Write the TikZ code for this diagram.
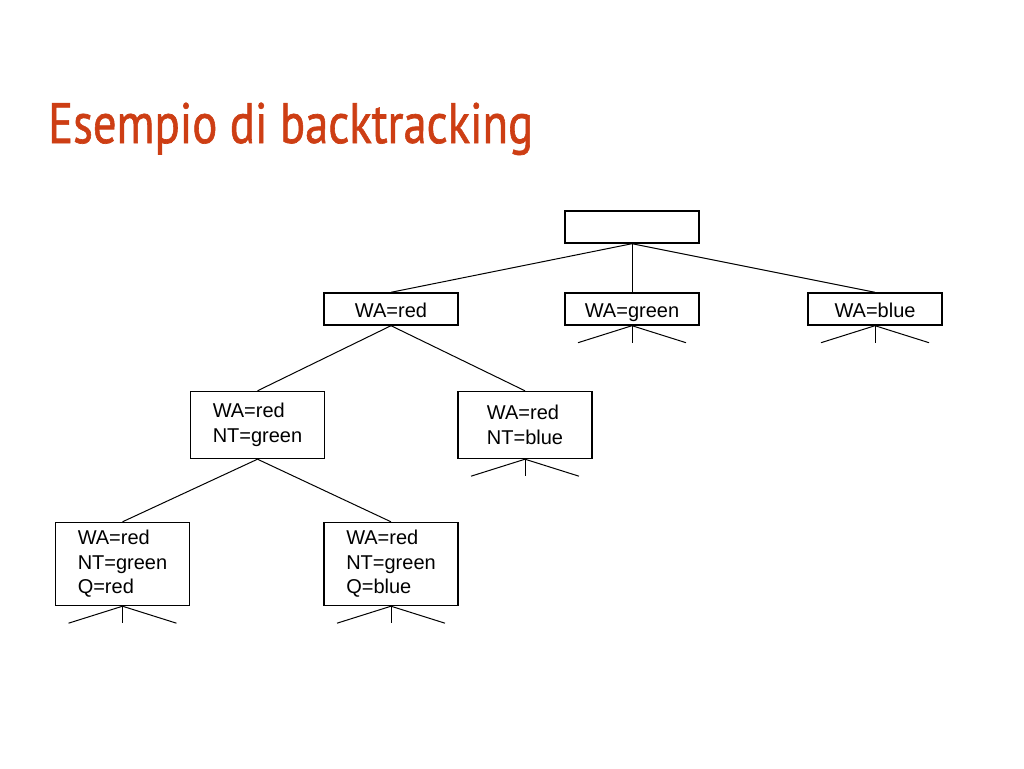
\documentclass[tikz,border=0pt]{standalone}
\usepackage{fontspec}
\setmainfont{Liberation Sans}
\newfontfamily\titlefont[FakeBold=1.2]{PT Sans}
\definecolor{titlered}{RGB}{205,62,20}
\tikzset{
  state/.style={draw, line width=1.4pt, minimum width=134pt, inner sep=0pt,
    align=left, font=\fontsize{20}{24.5}\selectfont},
  single/.style={state, minimum height=32pt, text height=17pt, text depth=1pt},
  branch/.style={line width=1pt},
}
\begin{document}
\begin{tikzpicture}[x=1pt,y=-1pt]
\useasboundingbox[fill=white] (0,0) rectangle (1024,768);
\node[anchor=base west, inner sep=0pt, text=titlered] (title) at (48,143)
  {\resizebox{485pt}{\height}{\fontsize{57}{60}\titlefont Esempio di backtracking}};
% search tree
\node[single] (root) at (632,227) {};
\node[single] (wr) at (391,309) {WA=red};
\node[single] (wg) at (632,309) {WA=green};
\node[single] (wb) at (875,309) {WA=blue};
\node[state, minimum height=67pt] (wrng) at (257.5,425) {WA=red\\NT=green};
\node[state, minimum height=67pt] (wrnb) at (525,425) {WA=red\\NT=blue};
\node[state, minimum height=83pt] (wrngr) at (122.5,564) {WA=red\\NT=green\\Q=red};
\node[state, minimum height=83pt] (wrngb) at (391,564) {WA=red\\NT=green\\Q=blue};
\draw[branch] (root.south) -- (wr.north);
\draw[branch] (root.south) -- (wg.north);
\draw[branch] (root.south) -- (wb.north);
\draw[branch] (wr.south) -- (wrng.north);
\draw[branch] (wr.south) -- (wrnb.north);
\draw[branch] (wrng.south) -- (wrngr.north);
\draw[branch] (wrng.south) -- (wrngb.north);
% unexpanded children
\foreach \n in {wg,wb,wrnb,wrngr,wrngb} {
  \coordinate (\n-l) at ([shift={(-54,17)}]\n.south);
  \coordinate (\n-m) at ([shift={(0,17)}]\n.south);
  \coordinate (\n-r) at ([shift={(54,17)}]\n.south);
  \draw[branch] (\n-l) -- (\n.south) -- (\n-r);
  \draw[branch] (\n.south) -- (\n-m);
}
\end{tikzpicture}
\end{document}
